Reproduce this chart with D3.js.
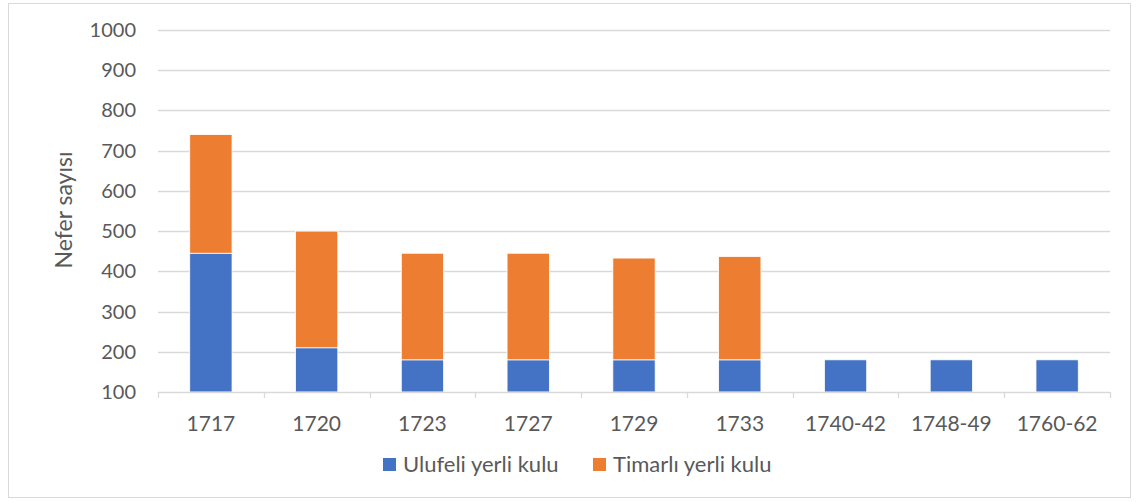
<!DOCTYPE html>
<html>
<head>
<meta charset="utf-8">
<script src="https://cdn.jsdelivr.net/npm/d3@7"></script>
<style>
  body { margin: 0; background: #fff; }
  text { font-family: Lato, "Open Sans", sans-serif; fill: #595959; }
</style>
</head>
<body>
<div id="chart"></div>
<script>
const years = ["1717", "1720", "1723", "1727", "1729", "1733", "1740-42", "1748-49", "1760-62"];
const ulufeli = [445, 210, 180, 180, 180, 180, 180, 180, 180];
const timarli = [295, 290, 265, 265, 253, 257, 0, 0, 0];
const yTicks = [100, 200, 300, 400, 500, 600, 700, 800, 900, 1000];
const seriesNames = ["Ulufeli yerli kulu", "Timarlı yerli kulu"];
const colors = ["#4472C4", "#ED7D31"];

const width = 1138, height = 502;
const m = { left: 158, right: 1110, top: 30, bottom: 392 };

const svg = d3.select("#chart").append("svg")
  .attr("width", width)
  .attr("height", height);

// chart frame
svg.append("rect")
  .attr("x", 8.5).attr("y", 3.5)
  .attr("width", 1122).attr("height", 494)
  .attr("fill", "none")
  .attr("stroke", "#d9d9d9");

const x = d3.scaleBand().domain(years).range([m.left, m.right]).paddingInner(0.6).paddingOuter(0.3);
const y = d3.scaleLinear().domain([100, 1000]).range([m.bottom, m.top]);

// grid
svg.append("g")
  .selectAll("line")
  .data(yTicks.slice(1))
  .join("line")
  .attr("x1", m.left).attr("x2", m.right)
  .attr("y1", d => Math.round(y(d)) + 0.5).attr("y2", d => Math.round(y(d)) + 0.5)
  .attr("stroke", "#d9d9d9")
  .attr("stroke-width", 1.3);

// y tick labels
svg.append("g")
  .selectAll("text")
  .data(yTicks)
  .join("text")
  .attr("x", 136)
  .attr("y", d => y(d))
  .attr("dy", "0.35em")
  .attr("text-anchor", "end")
  .style("font-size", "20px")
  .text(d => d);

// stacked bars
const rows = years.map((yr, i) => ({ year: yr, u: ulufeli[i], t: timarli[i] }));
const stack = d3.stack().keys(["u", "t"]);
const layers = stack(rows);

svg.append("g")
  .selectAll("g")
  .data(layers)
  .join("g")
  .attr("fill", (d, i) => colors[i])
  .selectAll("rect")
  .data(d => d.filter(s => s[1] > s[0]))
  .join("rect")
  .attr("x", d => x(d.data.year))
  .attr("width", x.bandwidth())
  .attr("y", d => y(Math.max(d[1], 100)))
  .attr("height", d => y(Math.max(d[0], 100)) - y(Math.max(d[1], 100)))
  .attr("stroke", "#fff")
  .attr("stroke-width", 0.8);

// x axis line and ticks between categories
const step = x.step();
const x0 = x(years[0]) - step * x.paddingOuter();
svg.append("line")
  .attr("x1", m.left).attr("x2", m.right)
  .attr("y1", m.bottom + 0.5).attr("y2", m.bottom + 0.5)
  .attr("stroke", "#d9d9d9").attr("stroke-width", 1.3);
svg.append("g")
  .selectAll("line")
  .data(d3.range(years.length + 1))
  .join("line")
  .attr("x1", i => Math.round(x0 + i * step) + 0.5)
  .attr("x2", i => Math.round(x0 + i * step) + 0.5)
  .attr("y1", m.bottom).attr("y2", m.bottom + 6)
  .attr("stroke", "#d9d9d9").attr("stroke-width", 1.3);

svg.append("g")
  .selectAll("text")
  .data(years)
  .join("text")
  .attr("x", d => x(d) + x.bandwidth() / 2)
  .attr("y", 424)
  .attr("dy", "0.35em")
  .attr("text-anchor", "middle")
  .style("font-size", "21px")
  .text(d => d);

// y axis title
svg.append("text")
  .attr("transform", "translate(64,210) rotate(-90)")
  .attr("dy", "0.35em")
  .attr("text-anchor", "middle")
  .style("font-size", "23px")
  .text("Nefer sayısı");

// legend
const legendX = [383, 593];
const legend = svg.append("g")
  .selectAll("g")
  .data(seriesNames)
  .join("g")
  .attr("transform", (d, i) => `translate(${legendX[i]},464.5)`);
legend.append("rect")
  .attr("x", 0).attr("y", -6.5)
  .attr("width", 13).attr("height", 13)
  .attr("fill", (d, i) => colors[i]);
legend.append("text")
  .attr("x", 20).attr("y", 0)
  .attr("dy", "0.35em")
  .style("font-size", "22px")
  .text(d => d);
</script>
</body>
</html>
